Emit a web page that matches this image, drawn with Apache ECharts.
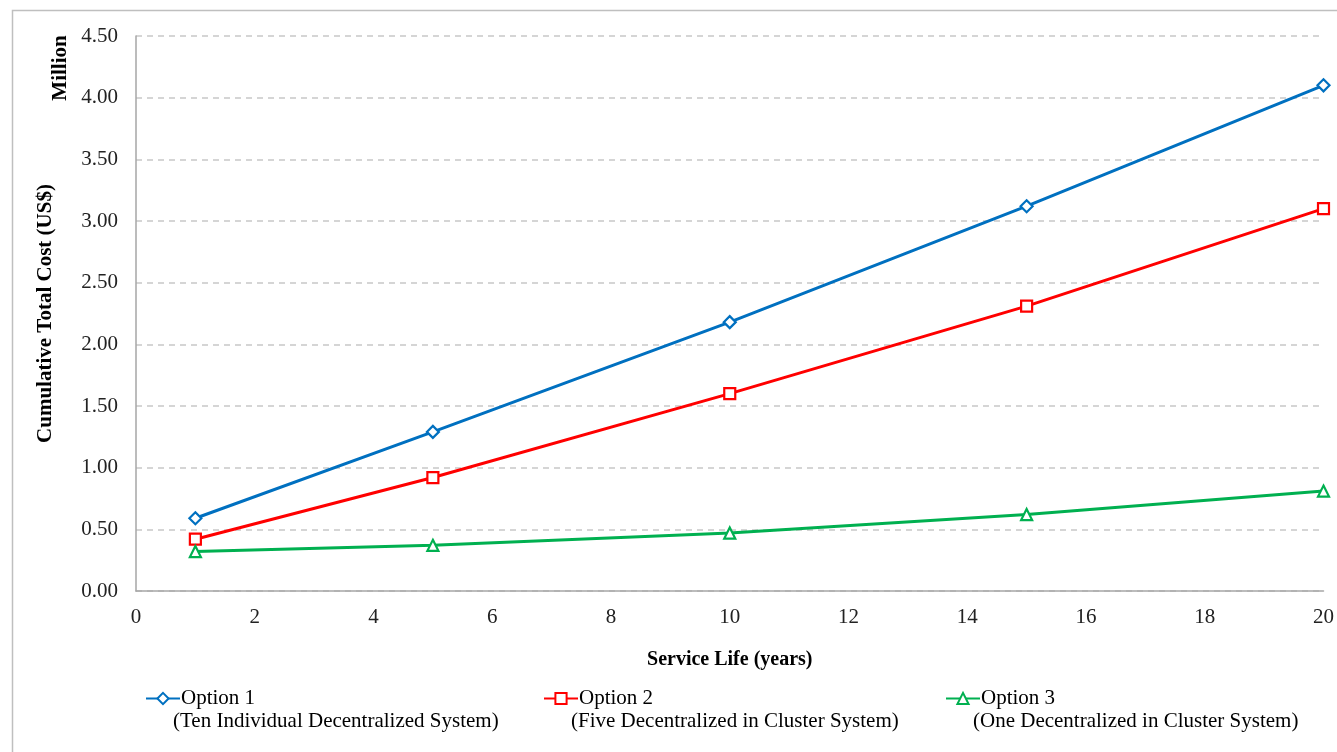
<!DOCTYPE html>
<html><head><meta charset="utf-8">
<script src="https://cdn.jsdelivr.net/npm/echarts@6/dist/echarts.min.js"></script>
<style>html,body{margin:0;padding:0;background:#fff}#c{width:1337px;height:752px}</style>
</head><body><div id="c"></div>
<script>
const years = [1, 5, 10, 15, 20];
const option1 = [0.59, 1.29, 2.18, 3.12, 4.10];
const option2 = [0.42, 0.92, 1.60, 2.31, 3.10];
const option3 = [0.32, 0.37, 0.47, 0.62, 0.81];
const seriesNames = ['Option 1', 'Option 2', 'Option 3'];
const seriesSubs = ['(Ten Individual Decentralized System)', '(Five Decentralized in Cluster System)', '(One Decentralized in Cluster System)'];
const colors = ['#0070C0', '#FF0000', '#00B050'];
const symbols = ['diamond', 'rect', 'triangle'];
const values = [option1, option2, option3];
const FONT = '"Liberation Serif", "Times New Roman", serif';

const chart = echarts.init(document.getElementById('c'));
const legendLeft = [140, 538, 940];
chart.setOption({
  animation: false,
  backgroundColor: '#fff',
  grid: {left: 136, right: 12, top: 36, bottom: 161, containLabel: false},
  xAxis: {
    type: 'value', min: 0, max: 20, interval: 2,
    name: 'Service Life (years)', nameLocation: 'middle', nameGap: 59,
    nameTextStyle: {fontFamily: FONT, fontWeight: 'bold', fontSize: 20, color: '#000'},
    axisLine: {show: true, lineStyle: {color: '#A6A6A6', width: 1.5}},
    axisTick: {show: false},
    splitLine: {show: false},
    axisLabel: {fontFamily: FONT, fontSize: 21, color: '#222', margin: 16}
  },
  yAxis: {
    type: 'value', min: 0, max: 4.5, interval: 0.5,
    name: 'Cumulative Total Cost (US$)', nameLocation: 'middle', nameGap: 80, nameRotate: 90,
    nameTextStyle: {fontFamily: FONT, fontWeight: 'bold', fontSize: 21, color: '#000'},
    axisLine: {show: true, lineStyle: {color: '#A6A6A6', width: 1.5}},
    axisTick: {show: false},
    splitLine: {show: true, lineStyle: {color: '#C8C8C8', type: [6, 5], width: 1.5}},
    axisLabel: {fontFamily: FONT, fontSize: 21, color: '#222', margin: 18,
      formatter: v => v.toFixed(2)}
  },
  legend: seriesNames.map((n, i) => ({
    data: [n], left: legendLeft[i], top: 683, itemWidth: 34, itemHeight: 14, itemGap: 0,
    textStyle: {fontFamily: FONT, fontSize: 21, color: '#000', padding: [0, 0, 0, -4]}
  })),
  graphic: [
    {type: 'rect', left: 10, top: 8, shape: {width: 1340, height: 760},
     style: {fill: 'none', stroke: '#BFBFBF', lineWidth: 1.5}, silent: true},
    {type: 'text', x: 61, y: 68, rotation: Math.PI / 2,
     style: {text: 'Million', fontFamily: FONT, fontWeight: 'bold', fontSize: 21, fill: '#000',
       align: 'center', verticalAlign: 'middle'}},
    ...seriesSubs.map((s, i) => ({type: 'text', left: legendLeft[i] + 33, top: 711,
      style: {text: s, fontFamily: FONT, fontSize: 21, fill: '#000'}}))
  ],
  series: values.map((v, i) => ({
    name: seriesNames[i], type: 'line',
    data: years.map((y, j) => [y, v[j]]),
    symbol: symbols[i], symbolSize: i === 0 ? 12 : 11,
    lineStyle: {color: colors[i], width: 3},
    itemStyle: {color: '#fff', borderColor: colors[i], borderWidth: 2.2},
    color: colors[i]
  }))
});
</script></body></html>
